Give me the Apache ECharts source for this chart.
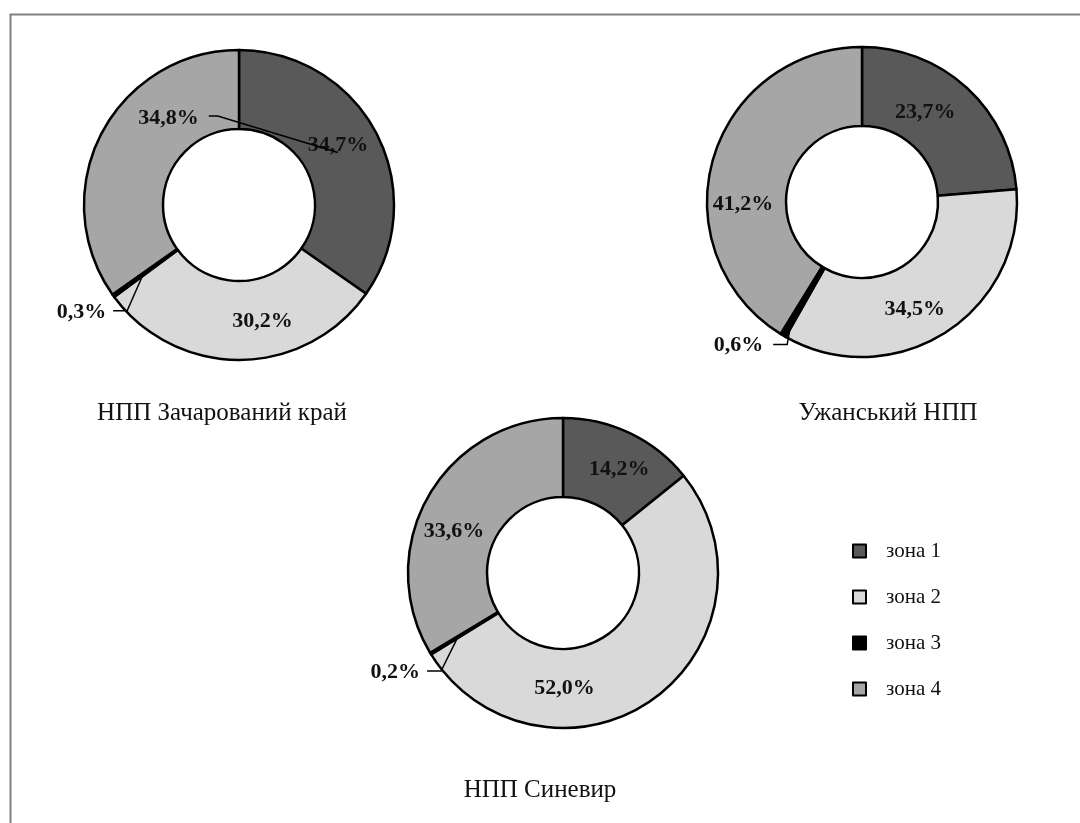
<!DOCTYPE html>
<html><head><meta charset="utf-8">
<script src="https://cdn.jsdelivr.net/npm/echarts@6/dist/echarts.min.js"></script>
<style>html,body{margin:0;padding:0;background:#fff}#c{width:1080px;height:823px}</style>
</head><body><div id="c"></div>
<script>
// ---- data ----
const zones = ['зона 1', 'зона 2', 'зона 3', 'зона 4'];
const parks = ['НПП Зачарований край', 'Ужанський НПП', 'НПП Синевир'];
const zacharovanyi = [34.7, 30.2, 0.3, 34.8];
const uzhanskyi = [23.7, 34.5, 0.6, 41.2];
const synevyr = [14.2, 52.0, 0.2, 33.6];
const seriesValues = [zacharovanyi, uzhanskyi, synevyr];

// ---- layout / style ----
const colors = ['#595959', '#d9d9d9', '#000000', '#a6a6a6'];
const centers = [[239, 205], [862, 202], [563, 573]];
const titlePos = [[222, 413], [888, 413], [540, 790]];
const R0 = 76, R1 = 155;
const FONT = "'Liberation Serif','Times New Roman',serif";
const LABEL_SIZE = 22;
// label nudges (dx, dy) for labels inside the ring
const nudges = [
  [[-6, -5], [22, -2], null, null],
  [[-17, -3], [-11, 7], null, [-5, 35]],
  [[5, 3], [-67, 19], null, [-6, 17]]
];
// leader geometry for the tiny slice labels: [innerR, elbowAngleOffset, elbowR, gap]
const smallLeader = [[118, 7.6, 154, 7], [139, 2.9, 161, 10], [123, 7.5, 156.5, 7]];

function fmt(v) { return v.toFixed(1).replace('.', ',') + '%'; }
function midAngle(vals, i) {
  let s = 0; for (let k = 0; k < i; k++) s += vals[k];
  s += vals[i] / 2;
  const tot = vals.reduce((a, b) => a + b, 0);
  return s / tot * 360;
}
function polar(ci, ang, r) {
  const a = ang * Math.PI / 180;
  return [centers[ci][0] + r * Math.sin(a), centers[ci][1] - r * Math.cos(a)];
}
const measureCtx = document.createElement('canvas').getContext('2d');
measureCtx.font = 'bold ' + LABEL_SIZE + 'px ' + FONT;
function textW(t) { return measureCtx.measureText(t).width; }

// geometry of callout labels (label anchor + leader polyline), derived from the data
function callout(ci, i) {
  const vals = seriesValues[ci];
  if (i === 2) {
    const g = smallLeader[ci];
    const a = midAngle(vals, i);
    const inner = polar(ci, a, g[0]);
    const elbow = polar(ci, a - g[1], g[2]);
    const end = [elbow[0] - 14, elbow[1]];
    return { x: end[0] - g[3], y: end[1] + 1, align: 'right', points: [inner, elbow, end] };
  }
  if (ci === 0 && i === 3) {
    const c = polar(ci, 321, 112);
    const w = textW(fmt(vals[i]));
    const target = polar(ci, 62, 112);
    return { x: c[0], y: c[1], align: 'center',
             points: [[c[0] + w / 2 + 10, c[1] - 2], [c[0] + w / 2 + 19, c[1] - 2], target] };
  }
  return null;
}

function makeLayout(ci) {
  return function (p) {
    const c = callout(ci, p.dataIndex);
    if (c) return { x: c.x, y: c.y, align: c.align, verticalAlign: 'middle' };
    const n = nudges[ci][p.dataIndex];
    return n ? { dx: n[0], dy: n[1] } : {};
  };
}

const leaderGraphics = [];
seriesValues.forEach((vals, ci) => vals.forEach((v, i) => {
  const c = callout(ci, i);
  if (c) leaderGraphics.push({
    type: 'polyline', z: 100, silent: true,
    shape: { points: c.points },
    style: { stroke: '#000', lineWidth: 1.5, fill: null }
  });
}));

const chart = echarts.init(document.getElementById('c'), null, { renderer: 'canvas' });
chart.setOption({
  backgroundColor: '#ffffff',
  animation: false,
  graphic: [{
    type: 'rect', left: 8, top: 12, silent: true,
    shape: { width: 1200, height: 900 },
    style: { fill: 'none', stroke: '#808080', lineWidth: 2 }
  }].concat(leaderGraphics),
  title: parks.map((t, k) => ({
    text: t, left: titlePos[k][0], top: titlePos[k][1],
    textAlign: 'center', textVerticalAlign: 'middle', padding: 0,
    textStyle: { fontFamily: FONT, fontSize: 25, fontWeight: 'normal', color: '#111' }
  })),
  legend: {
    data: zones, orient: 'vertical', left: 852, top: 539, padding: 0,
    itemWidth: 13, itemHeight: 13, itemGap: 22, icon: 'rect', selectedMode: false,
    itemStyle: { borderColor: '#000', borderWidth: 2 },
    textStyle: { fontFamily: FONT, fontSize: 21, color: '#111', lineHeight: 24, padding: [0, 0, 0, 15] }
  },
  series: seriesValues.map((vals, ci) => ({
    type: 'pie', center: centers[ci], radius: [R0, R1], startAngle: 90, clockwise: true,
    avoidLabelOverlap: false, silent: true, z: 2,
    itemStyle: { borderColor: '#000', borderWidth: 2.5 },
    label: { show: true, position: 'inside', formatter: p => fmt(p.value),
             fontFamily: FONT, fontSize: LABEL_SIZE, fontWeight: 'bold', color: '#111' },
    labelLine: { show: false },
    labelLayout: makeLayout(ci),
    data: vals.map((v, i) => {
      const d = { name: zones[i], value: v, itemStyle: { color: colors[i] } };
      if (callout(ci, i)) d.label = { position: 'outside' };
      return d;
    })
  }))
});
</script></body></html>
